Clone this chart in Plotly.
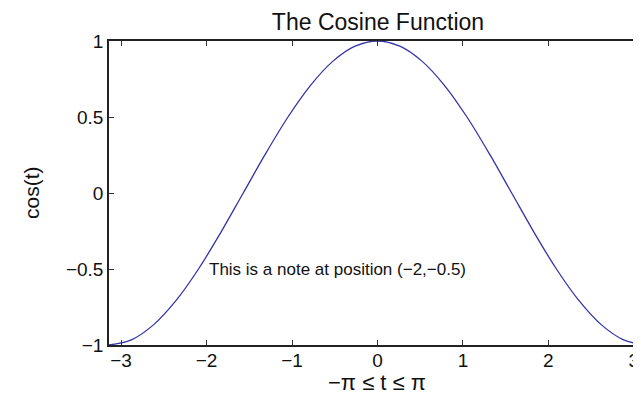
import plotly.graph_objects as go

# samples of the curve (t in radians)
t_vals = [
    -3.1416, -2.8798, -2.618, -2.3562, -2.0944, -1.8326, -1.5708, -1.309, -1.0472,
    -0.7854, -0.5236, -0.2618, 0.0, 0.2618, 0.5236, 0.7854, 1.0472, 1.309, 1.5708,
    1.8326, 2.0944, 2.3562, 2.618, 2.8798, 3.1416,
]
cos_vals = [
    -1.0, -0.966, -0.866, -0.707, -0.5, -0.259, 0.0, 0.259, 0.5,
    0.707, 0.866, 0.966, 1.0, 0.966, 0.866, 0.707, 0.5, 0.259, 0.0,
    -0.259, -0.5, -0.707, -0.866, -0.966, -1.0,
]

x_ticks = [-3, -2, -1, 0, 1, 2, 3]
x_ticktext = ["\u22123", "\u22122", "\u22121", "0", "1", "2", "3"]
y_ticks = [-1, -0.5, 0, 0.5, 1]
y_ticktext = ["\u22121", "\u22120.5", "0", "0.5", "1"]

note_text = "This is a note at position (\u22122,\u22120.5)"
note_x, note_y = -2, -0.5

FONT = "Liberation Sans, Arial, sans-serif"
INK = "#111111"

fig = go.Figure(
    go.Scatter(
        x=t_vals,
        y=cos_vals,
        mode="lines",
        line={"color": "#3434a8", "width": 1.3, "shape": "spline"},
        showlegend=False,
    )
)

axis_style = {
    "showline": True,
    "linecolor": "#222222",
    "linewidth": 1.5,
    "mirror": "ticks",
    "ticks": "inside",
    "ticklen": 5,
    "tickwidth": 1,
    "tickcolor": "#333333",
    "showgrid": False,
    "zeroline": False,
    "automargin": False,
    "tickfont": {"family": FONT, "size": 19, "color": INK},
}

# the note placed in data coordinates
fig.add_annotation(
    x=note_x, y=note_y, text=note_text, showarrow=False,
    xanchor="left", yanchor="middle",
    font={"family": FONT, "size": 17, "color": INK},
)
# axis labels, placed by hand like the MATLAB figure
fig.add_annotation(
    x=0, xref="x", y=0, yref="paper", yshift=-37,
    text="\u2212\u03c0 \u2264 t \u2264 \u03c0", showarrow=False,
    xanchor="center", yanchor="middle",
    font={"family": FONT, "size": 22, "color": INK},
)
fig.add_annotation(
    x=0, xref="paper", xshift=-78, y=0, yref="y",
    text="cos(t)", textangle=-90, showarrow=False,
    xanchor="center", yanchor="middle",
    font={"family": FONT, "size": 21, "color": INK},
)

# the page body adds an 8px margin, so the figure is 8px smaller than the window
fig.update_layout(
    width=633,
    height=386,
    paper_bgcolor="white",
    plot_bgcolor="white",
    margin={"l": 101, "r": 0, "t": 33, "b": 49},
    title={
        "text": "The Cosine Function",
        "x": 0.5845,
        "xref": "container",
        "xanchor": "center",
        "y": 0.964,
        "yref": "container",
        "yanchor": "middle",
        "font": {"family": FONT, "size": 23, "color": INK},
    },
    xaxis={
        **axis_style,
        "range": [-3.1416, 3.084],
        "tickvals": x_ticks,
        "ticktext": x_ticktext,
        "ticklabelstandoff": -3,
    },
    yaxis={
        **axis_style,
        "range": [-1, 1],
        "tickvals": y_ticks,
        "ticktext": y_ticktext,
    },
)

fig.write_html("out.html")
